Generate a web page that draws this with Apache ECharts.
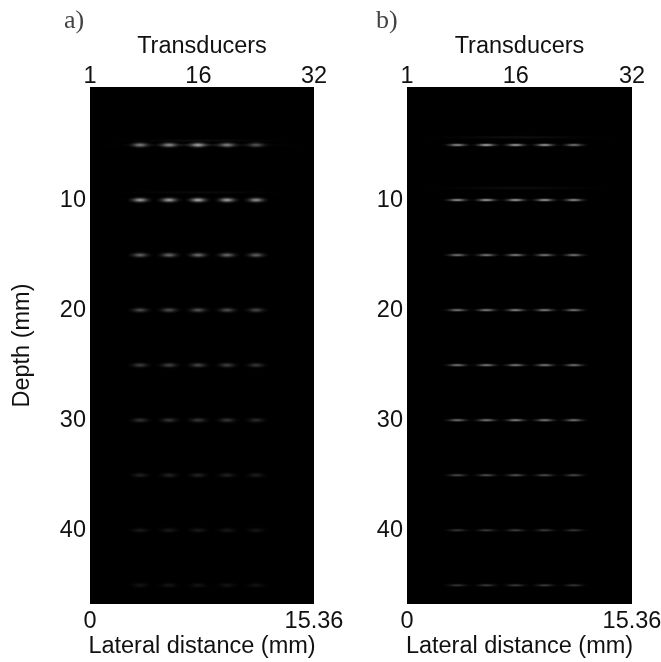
<!DOCTYPE html>
<html>
<head>
<meta charset="utf-8">
<style>html,body{margin:0;padding:0;background:#fff}#c{width:661px;height:662px}</style>
<script src="https://cdn.jsdelivr.net/npm/echarts@6/dist/echarts.min.js"></script>
</head>
<body>
<div id="c"></div>
<script>
const depths = [5, 10, 15, 20, 25, 30, 35, 40, 45];
const lateral = [3.43, 5.42, 7.41, 9.4, 11.39];
const depthTicks = [10, 20, 30, 40];
const lateralTicks = [0, 15.36];
const transducerTicks = [1, 16, 32];
const intensityA = [
  [.62,.68,.78,.62,.42],
  [.78,.80,.85,.80,.72],
  [.50,.52,.55,.52,.48],
  [.38,.40,.42,.40,.36],
  [.30,.33,.35,.32,.28],
  [.25,.27,.28,.27,.22],
  [.16,.18,.18,.17,.15],
  [.13,.13,.13,.12,.11],
  [.10,.10,.10,.10,.09]
];
const intensityB = [
  [.72,.85,.80,.78,.60],
  [.75,.80,.80,.78,.72],
  [.60,.62,.65,.62,.60],
  [.62,.65,.68,.65,.60],
  [.60,.62,.62,.62,.58],
  [.58,.62,.65,.62,.60],
  [.38,.40,.42,.40,.38],
  [.28,.30,.32,.30,.28],
  [.27,.30,.30,.30,.27]
];
const streakDepthA = [4.6, 5.0, 9.3];
const streakLevelA = [.06, .12, .05];
const streakDepthB = [4.3, 8.9];
const streakLevelB = [.08, .07];

const FONT = 'Liberation Sans';
const panels = [
  {left: 90, width: 224, spots: intensityA, streakD: streakDepthA, streakL: streakLevelA, size: [28, 8], depthName: 'Depth (mm)'},
  {left: 407, width: 225, spots: intensityB, streakD: streakDepthB, streakL: streakLevelB, size: [32, 5], depthName: ''}
];
const gray = (v, a) => { const g = Math.round(v * 255); return `rgba(${g},${g},${g},${a})`; };
const glow = v => ({
  type: 'radial', x: .5, y: .5, r: .5,
  colorStops: [
    {offset: 0, color: gray(v, 1)},
    {offset: .25, color: gray(v, .7)},
    {offset: .5, color: gray(v, .3)},
    {offset: .75, color: gray(v, .08)},
    {offset: 1, color: gray(v, 0)}
  ]
});
const axisBase = {
  axisLine: {show: false}, axisTick: {show: false}, splitLine: {show: false}, nameMoveOverlap: false
};
const labelStyle = {color: '#111', fontFamily: FONT, fontSize: 23.5};
const nameStyle = {color: '#111', fontFamily: FONT, fontSize: 23.5};

const grid = [], xAxis = [], yAxis = [], series = [];
panels.forEach((p, i) => {
  grid.push({left: p.left, width: p.width, top: 87, height: 517, show: true, backgroundColor: '#000', borderWidth: 0, outerBoundsMode: 'none'});
  xAxis.push({...axisBase, gridIndex: i, type: 'value', position: 'bottom', min: 0, max: 15.36,
    name: 'Lateral distance (mm)', nameLocation: 'middle', nameGap: 31, nameTextStyle: nameStyle,
    axisLabel: {...labelStyle, customValues: lateralTicks, margin: 6}});
  xAxis.push({...axisBase, gridIndex: i, type: 'value', position: 'top', min: 1, max: 32,
    name: 'Transducers', nameLocation: 'middle', nameGap: 28, nameTextStyle: nameStyle,
    axisLabel: {...labelStyle, customValues: transducerTicks, margin: -2}});
  yAxis.push({...axisBase, gridIndex: i, type: 'value', inverse: true, min: -0.27, max: 46.7,
    name: p.depthName, nameLocation: 'middle', nameGap: 55, nameTextStyle: nameStyle,
    axisLabel: {...labelStyle, customValues: depthTicks, margin: 4}});
  series.push({
    type: 'scatter', xAxisIndex: i * 2, yAxisIndex: i, silent: true, symbol: 'circle',
    symbolSize: [p.width, 5],
    data: p.streakD.map((d, k) => ({value: [7.68, d], itemStyle: {color: glow(p.streakL[k])}}))
  });
  const pts = [];
  depths.forEach((d, r) => lateral.forEach((x, c) => {
    pts.push({value: [x, d], itemStyle: {color: glow(p.spots[r][c])}});
  }));
  series.push({type: 'scatter', xAxisIndex: i * 2, yAxisIndex: i, silent: true, symbol: 'circle', symbolSize: p.size, data: pts});
});

const chart = echarts.init(document.getElementById('c'), null, {renderer: 'canvas'});
const markStyle = {fontFamily: 'Liberation Serif', fontWeight: 'normal', fontSize: 26, color: '#444'};
chart.setOption({
  animation: false,
  backgroundColor: '#fff',
  title: [
    {text: 'a)', left: 64, top: 8, padding: 0, textStyle: markStyle},
    {text: 'b)', left: 376, top: 8, padding: 0, textStyle: markStyle}
  ],
  grid, xAxis, yAxis, series
});
</script>
</body>
</html>
